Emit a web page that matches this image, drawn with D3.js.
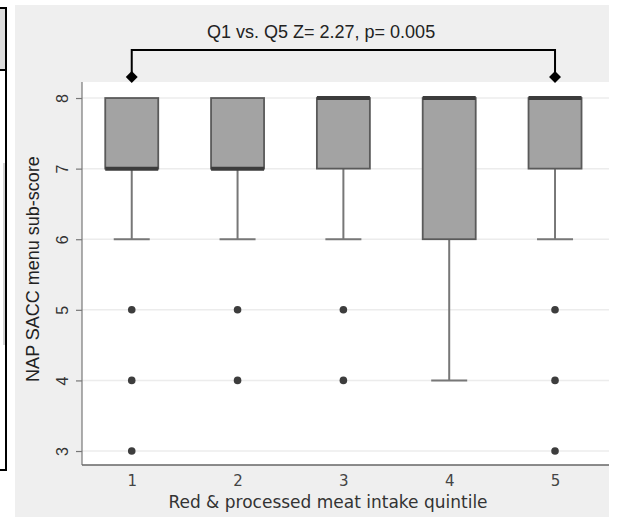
<!DOCTYPE html>
<html>
<head>
<meta charset="utf-8">
<script src="https://cdn.jsdelivr.net/npm/d3@7"></script>
<style>
  body { margin: 0; background: #fff; }
  svg { display: block; }
</style>
</head>
<body>
<div id="chart"></div>
<script>
const width = 627;
const height = 517;

// box plot summaries per quintile
const quintiles = [1, 2, 3, 4, 5];
const q1 = [7, 7, 7, 6, 7];
const medians = [7, 7, 8, 8, 8];
const q3 = [8, 8, 8, 8, 8];
const whiskerLow = [6, 6, 6, 4, 6];
const whiskerHigh = [8, 8, 8, 8, 8];
const outliers = [[5, 4, 3], [5, 4], [5, 4], [], [5, 4, 3]];
const yTicks = [3, 4, 5, 6, 7, 8];
const compareFrom = 1;
const compareTo = 5;
const compareLabel = "Q1 vs. Q5 Z= 2.27, p= 0.005";

const plot = { left: 82, right: 609, top: 82, bottom: 465 };

const x = d3.scaleLinear().domain([0.53, 5.51]).range([plot.left, plot.right]);
const y = d3.scaleLinear().domain([2.802, 8.227]).range([plot.bottom, plot.top]);

const svg = d3.select("#chart").append("svg")
    .attr("width", width)
    .attr("height", height);

// bits of a neighbouring table cut off at the left edge
svg.append("rect").attr("x", -3).attr("y", 8).attr("width", 9).attr("height", 62)
    .attr("fill", "#dcdcdc").attr("stroke", "#000").attr("stroke-width", 2);
svg.append("rect").attr("x", -3).attr("y", 70).attr("width", 9).attr("height", 400)
    .attr("fill", "#fff").attr("stroke", "#000").attr("stroke-width", 2);
svg.append("line").attr("x1", 4).attr("x2", 4).attr("y1", 163).attr("y2", 345)
    .attr("stroke", "#aaa").attr("stroke-width", 1);

// graph region + plot region
svg.append("rect").attr("x", 15).attr("y", 5).attr("width", 594).attr("height", 512)
    .attr("fill", "#efefef");
svg.append("rect").attr("x", plot.left).attr("y", plot.top)
    .attr("width", plot.right - plot.left).attr("height", plot.bottom - plot.top)
    .attr("fill", "#fff");

// gridlines
svg.append("g").selectAll("line").data(yTicks).join("line")
    .attr("x1", plot.left).attr("x2", plot.right)
    .attr("y1", d => y(d)).attr("y2", d => y(d))
    .attr("stroke", "#ececec").attr("stroke-width", 1.5);

// y axis
const yAxis = svg.append("g").attr("transform", `translate(${plot.left},0)`)
    .call(d3.axisLeft(y).tickValues(yTicks).tickSize(6).tickFormat(d3.format("d")));
yAxis.attr("font-size", null);
yAxis.select(".domain").attr("stroke", "#777").attr("stroke-width", 1.2)
    .attr("d", `M0,${plot.top}V${plot.bottom}`);
yAxis.selectAll(".tick line").attr("stroke", "#777").attr("stroke-width", 1.2);
yAxis.selectAll(".tick text")
    .attr("x", null).attr("dy", null)
    .attr("transform", "translate(-14,0) rotate(-90)")
    .attr("text-anchor", "middle")
    .attr("font-family", "Liberation Sans, Arial, sans-serif")
    .style("font-size", "16px")
    .attr("fill", "#333");

// x axis
const xAxis = svg.append("g").attr("transform", `translate(0,${plot.bottom})`)
    .call(d3.axisBottom(x).tickValues(quintiles).tickSize(0).tickFormat(d3.format("d")));
xAxis.attr("font-size", null);
xAxis.select(".domain").attr("stroke", "#666").attr("stroke-width", 1.5)
    .attr("d", `M${plot.left},0H${plot.right}`);
xAxis.selectAll(".tick text")
    .attr("y", 21).attr("dy", null)
    .attr("font-family", "DejaVu Sans, Verdana, sans-serif")
    .style("font-size", "15px")
    .attr("fill", "#444");

// axis titles
svg.append("text")
    .attr("transform", "translate(39,269) rotate(-90)")
    .attr("text-anchor", "middle")
    .attr("font-family", "Liberation Sans, Arial, sans-serif")
    .attr("font-size", 18)
    .attr("fill", "#222")
    .text("NAP SACC menu sub-score");

svg.append("text")
    .attr("x", 328).attr("y", 508)
    .attr("text-anchor", "middle")
    .attr("font-family", "DejaVu Sans, Verdana, sans-serif")
    .attr("font-size", 17)
    .attr("fill", "#333")
    .text("Red & processed meat intake quintile");

// boxes
const boxW = 53;
const capW = 36;
const g = svg.append("g");

quintiles.forEach((q, i) => {
    const cx = x(q);
    // lower whisker
    g.append("line")
        .attr("x1", cx).attr("x2", cx)
        .attr("y1", y(q1[i])).attr("y2", y(whiskerLow[i]))
        .attr("stroke", "#777").attr("stroke-width", 2);
    g.append("line")
        .attr("x1", cx - capW / 2).attr("x2", cx + capW / 2)
        .attr("y1", y(whiskerLow[i])).attr("y2", y(whiskerLow[i]))
        .attr("stroke", "#777").attr("stroke-width", 2);
    if (whiskerHigh[i] > q3[i]) {
        g.append("line")
            .attr("x1", cx).attr("x2", cx)
            .attr("y1", y(q3[i])).attr("y2", y(whiskerHigh[i]))
            .attr("stroke", "#777").attr("stroke-width", 2);
    }
    g.append("rect")
        .attr("x", cx - boxW / 2).attr("y", y(q3[i]))
        .attr("width", boxW).attr("height", y(q1[i]) - y(q3[i]))
        .attr("fill", "#a3a3a3").attr("stroke", "#5a5a5a").attr("stroke-width", 1.8);
    g.append("line")
        .attr("x1", cx - boxW / 2).attr("x2", cx + boxW / 2)
        .attr("y1", y(medians[i])).attr("y2", y(medians[i]))
        .attr("stroke", "#3c3c3c").attr("stroke-width", 4);
    g.selectAll(null).data(outliers[i]).join("circle")
        .attr("cx", cx).attr("cy", d => y(d)).attr("r", 3.8)
        .attr("fill", "#3d3d3d");
});

// comparison bracket
const bracketY = 50;
const diamondY = 77;
const ann = svg.append("g");
ann.append("path")
    .attr("d", `M${x(compareFrom)},${diamondY}V${bracketY}H${x(compareTo)}V${diamondY}`)
    .attr("fill", "none").attr("stroke", "#000").attr("stroke-width", 2);
ann.selectAll("path.dia").data([compareFrom, compareTo]).join("path")
    .attr("class", "dia")
    .attr("d", d3.symbol(d3.symbolDiamond2, 90))
    .attr("transform", d => `translate(${x(d)},${diamondY})`)
    .attr("fill", "#000");
ann.append("text")
    .attr("x", 207).attr("y", 38)
    .attr("font-family", "Liberation Sans, Arial, sans-serif")
    .attr("font-size", 18)
    .attr("fill", "#222")
    .text(compareLabel);
</script>
</body>
</html>
